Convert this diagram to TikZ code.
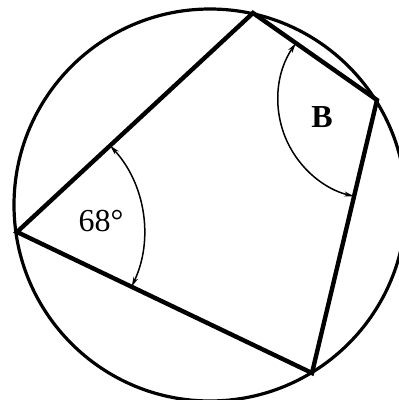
\documentclass[tikz,border=0pt]{standalone}
\usepackage{fontspec}
\setmainfont{Liberation Serif}
\usetikzlibrary{arrows.meta,calc}
\tikzset{
  rim/.style={line width=3.2pt},
  edge/.style={line width=4.4pt, line join=miter},
  angarc/.style={line width=1.5pt, {Stealth[length=10pt,width=5pt]}-{Stealth[length=10pt,width=5pt]}},
  lbl/.style={font=\fontsize{32}{33}\selectfont, inner sep=0pt}
}
\begin{document}
\begin{tikzpicture}[x=1pt,y=-1pt]
\useasboundingbox (0,0) rectangle (399,400);
\clip (0,0) rectangle (399,400);
\coordinate (O) at (210,205);
\coordinate (T) at (253,13);
\coordinate (R) at (377,100);
\coordinate (Bt) at (312,373);
\coordinate (L) at (17,232);
\draw[rim] (O) circle[radius=196];
\draw[edge] (T) -- (R) -- (Bt) -- (L) -- cycle;
\draw[angarc] ([shift={(-42.86:127)}]L) arc[start angle=-42.86, end angle=25.5, radius=127];
\draw[angarc] ([shift={(-144.94:99)}]R) arc[start angle=-144.94, end angle=-256.6, radius=99];
\node[lbl] (a68) at (101,221) {68°};
\node[lbl] (aB) at (322,117) {\textbf{B}};
\end{tikzpicture}
\end{document}
